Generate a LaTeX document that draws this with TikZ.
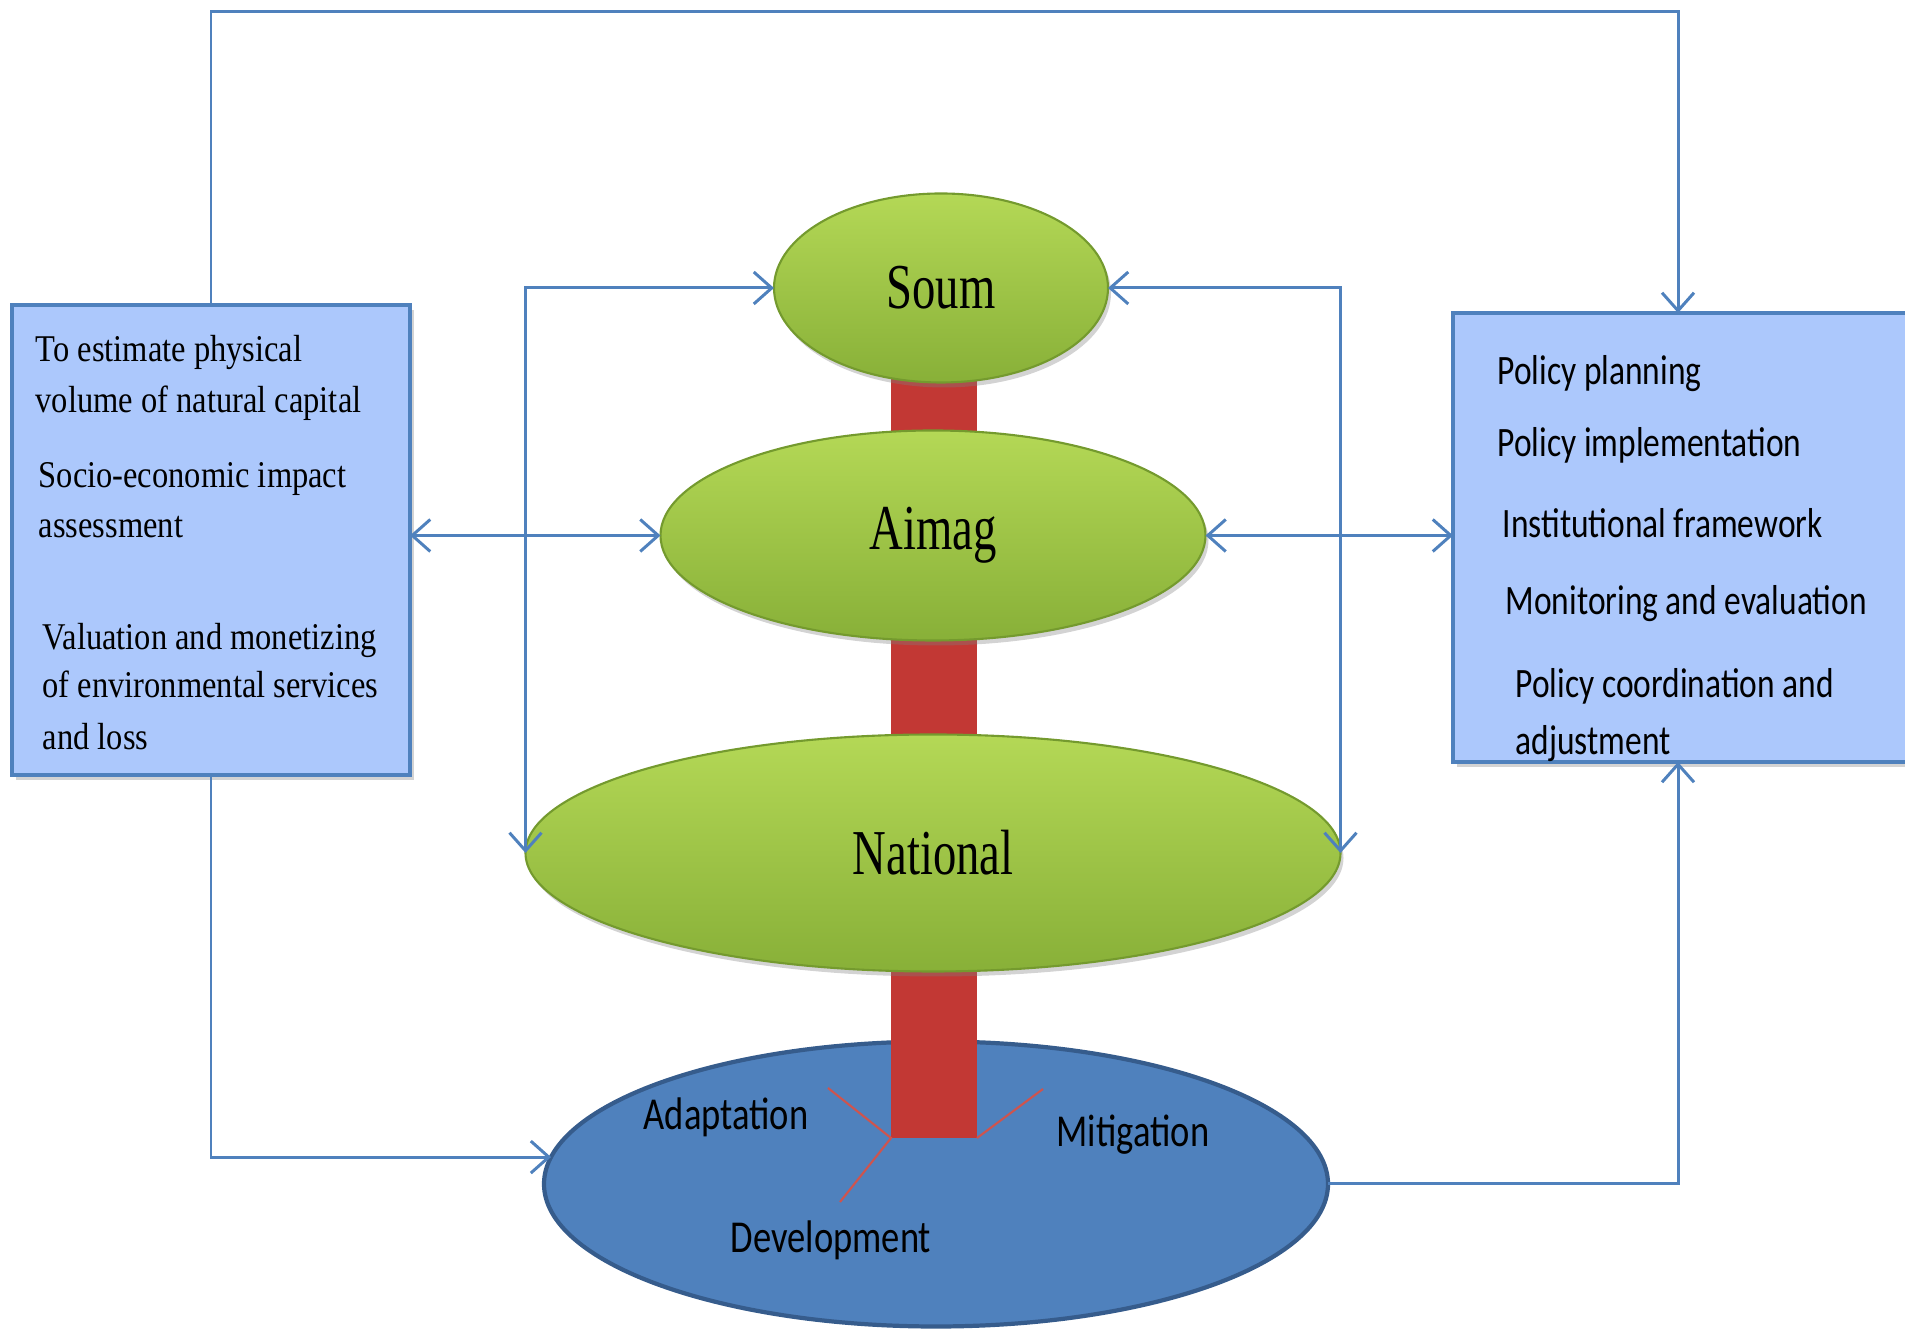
\documentclass[tikz,border=0pt]{standalone}
\usepackage{fontspec}
\setmainfont{Liberation Serif}
\newfontfamily\boxserif[FakeStretch=0.86]{Liberation Serif}
\newfontfamily\tierserif[FakeStretch=0.73]{Liberation Serif}
\newfontfamily\calsans[FakeStretch=0.8]{Carlito}
\usetikzlibrary{arrows.meta, shapes.geometric, positioning, backgrounds, shadows}

\definecolor{linkblue}{RGB}{79,129,189}
\definecolor{boxfill}{RGB}{172,200,252}
\definecolor{greenlight}{RGB}{180,216,86}
\definecolor{greendark}{RGB}{136,176,56}
\definecolor{greenedge}{RGB}{116,154,46}
\definecolor{basefill}{RGB}{79,129,189}
\definecolor{baseedge}{RGB}{54,92,140}
\definecolor{barred}{RGB}{194,56,52}
\definecolor{forkred}{RGB}{206,84,78}

\tikzset{
    tier/.style={ellipse, draw=greenedge, line width=0.6pt, top color=greenlight, bottom color=greendark,
        inner sep=0pt, outer sep=0pt, font=\tierserif\fontsize{18.2pt}{20pt}\selectfont,
        drop shadow={shadow xshift=0.03cm, shadow yshift=-0.05cm, opacity=0.35}},
    infobox/.style={rectangle, draw=linkblue, line width=0.9pt, fill=boxfill, inner sep=0pt, outer sep=0pt,
        drop shadow={shadow xshift=0.04cm, shadow yshift=-0.05cm, opacity=0.35}},
    link/.style={draw=linkblue, line width=0.85pt},
    lefttxt/.style={anchor=base west, inner sep=0pt, font=\boxserif\fontsize{10.75pt}{13pt}\selectfont},
    righttxt/.style={anchor=base west, inner sep=0pt, font=\calsans\fontsize{11.9pt}{14pt}\selectfont},
    basetxt/.style={anchor=base, inner sep=0pt, font=\calsans\fontsize{13pt}{15pt}\selectfont}
}

\begin{document}
\begin{tikzpicture}[>={Straight Barb[length=0.18cm, width=0.32cm]}]
    \useasboundingbox (0,0) rectangle (19.05,13.31);

    % green levels
    \node[tier, minimum width=8.15cm, minimum height=2.37cm] (national) at (9.33,4.78) {National};
    \node[tier, minimum width=5.45cm, minimum height=2.10cm, above=0.94cm of national] (aimag) {Aimag};
    \node[tier, minimum width=3.34cm, minimum height=1.89cm, above=0.48cm of aimag, xshift=0.08cm] (soum) {Soum};

    % blue base with the red stem
    \begin{scope}[on background layer]
        \node[ellipse, draw=baseedge, line width=1.2pt, fill=basefill, inner sep=0pt, outer sep=0pt,
            minimum width=7.84cm, minimum height=2.85cm, below=0.70cm of national, xshift=0.03cm] (base) {};
        \coordinate (forkL) at (8.91,1.93);
        \coordinate (forkR) at (9.77,1.93);
        \fill[barred] (forkL) rectangle (9.77,10.40);
        \draw[forkred, line width=0.6pt] (8.28,2.43) -- (forkL) -- (8.40,1.29);
        \draw[forkred, line width=0.6pt] (forkR) -- (10.43,2.42);
    \end{scope}
    \node[basetxt] (adapt) at (7.26,2.01) {Adaptation};
    \node[basetxt] (mitig) at (11.33,1.84) {Mitigation};
    \node[basetxt] (devel) at (8.31,0.78) {Development};

    % side boxes
    \node[infobox, minimum width=3.98cm, minimum height=4.70cm] (valuebox) at (2.11,7.91) {};
    \node[infobox, minimum width=4.90cm, minimum height=4.49cm] (policybox) at (16.98,7.935) {};

    \node[lefttxt] (l1) at (0.35,9.69) {To estimate physical};
    \node[lefttxt] (l2) at (0.35,9.18) {volume of natural capital};
    \node[lefttxt] (l3) at (0.38,8.43) {Socio-economic impact};
    \node[lefttxt] (l4) at (0.38,7.93) {assessment};
    \node[lefttxt] (l5) at (0.42,6.81) {Valuation and monetizing};
    \node[lefttxt] (l6) at (0.42,6.33) {of environmental services};
    \node[lefttxt] (l7) at (0.42,5.81) {and loss};

    \node[righttxt] (r1) at (14.97,9.46) {Policy planning};
    \node[righttxt] (r2) at (14.97,8.74) {Policy implementation};
    \node[righttxt] (r3) at (15.02,7.93) {Institutional framework};
    \node[righttxt] (r4) at (15.05,7.16) {Monitoring and evaluation};
    \node[righttxt] (r5) at (15.15,6.33) {Policy coordination and};
    \node[righttxt] (r6) at (15.15,5.76) {adjustment};

    % connectors
    \coordinate (topright) at (16.78,13.19);
    \draw[link, ->] (valuebox.north) |- (topright) -- (topright |- policybox.north);
    \draw[link, ->] (valuebox.south) |- (base.176);
    \draw[link, ->] (base.east) -| (topright |- policybox.south);
    \draw[link, <->] (national.west) |- (soum.west);
    \draw[link, <->] (national.east) |- (soum.east);
    \draw[link, <->] (valuebox.east |- aimag.west) -- (aimag.west);
    \draw[link, <->] (aimag.east) -- (aimag.east -| policybox.west);
\end{tikzpicture}
\end{document}
